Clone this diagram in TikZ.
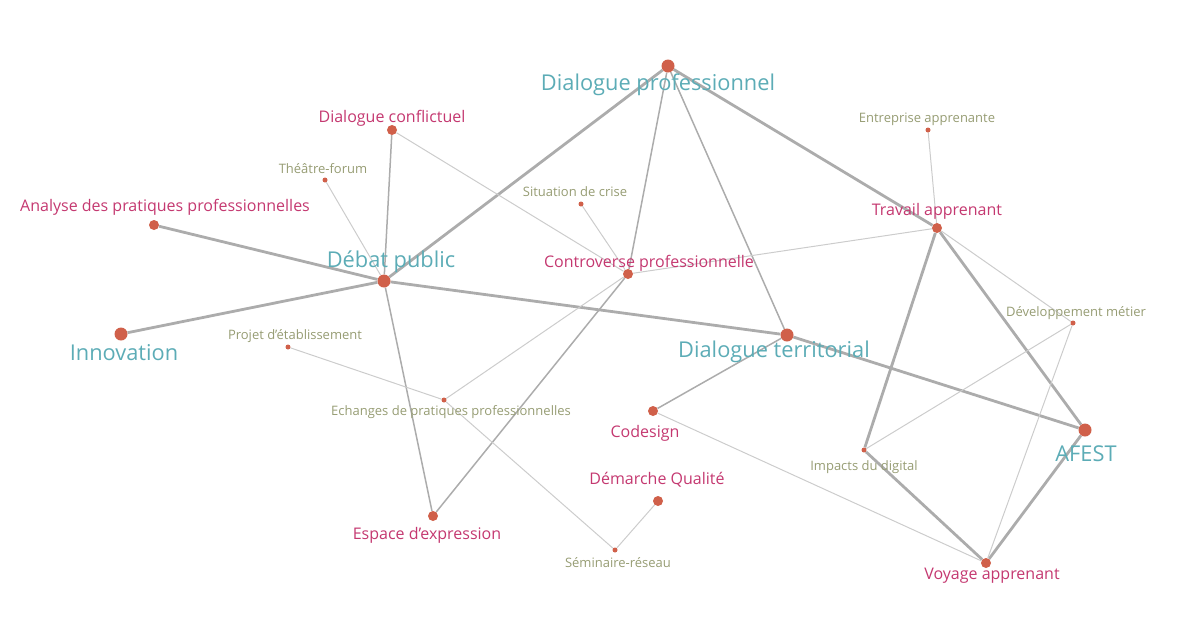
\documentclass[tikz,border=0pt]{standalone}
\usepackage{fontspec}
\setmainfont{Open Sans}
\usetikzlibrary{positioning,backgrounds}
\definecolor{DotRed}{RGB}{208,96,74}
\definecolor{TealLbl}{RGB}{92,172,182}
\definecolor{PinkLbl}{RGB}{196,56,112}
\definecolor{OliveLbl}{RGB}{150,156,115}
\definecolor{EdgeGray}{RGB}{172,172,172}
\definecolor{EdgeLight}{RGB}{204,204,204}

\tikzset{
	dotbig/.style={circle, fill=DotRed, inner sep=0pt, minimum size=13pt},
	dotmid/.style={circle, fill=DotRed, inner sep=0pt, minimum size=10pt},
	dotsmall/.style={circle, fill=DotRed, inner sep=0pt, minimum size=5pt},
	txtbig/.style={text=TealLbl, font=\fontsize{21.8}{22}\selectfont, inner sep=0pt},
	txtmid/.style={text=PinkLbl, font=\fontsize{16}{16}\selectfont, inner sep=0pt},
	txtsmall/.style={text=OliveLbl, font=\fontsize{13}{13}\selectfont, inner sep=0pt},
	linkthick/.style={EdgeGray, line width=2.8pt},
	linkmid/.style={EdgeGray, line width=1.5pt},
	linkthin/.style={EdgeLight, line width=1pt}
}

\begin{document}
\begin{tikzpicture}[x=1pt, y=-1pt]
	\useasboundingbox (0,0) rectangle (1192,633);

	% points
	\node[dotbig] (dprof) at (668,66) {};
	\node[dotmid] (dconf) at (392,130) {};
	\node[dotsmall] (theatre) at (325,180) {};
	\node[dotmid] (analyse) at (154,225) {};
	\node[dotbig] (debat) at (384,281) {};
	\node[dotbig] (innov) at (121,334) {};
	\node[dotsmall] (projet) at (288,347) {};
	\node[dotsmall] (crise) at (581,204) {};
	\node[dotmid] (controv) at (628,274) {};
	\node[dotbig] (dterr) at (787,335) {};
	\node[dotsmall] (entrep) at (928,130) {};
	\node[dotmid] (travail) at (937,228) {};
	\node[dotsmall] (devmet) at (1073,323) {};
	\node[dotsmall] (echanges) at (444,400) {};
	\node[dotmid] (codesign) at (653,411) {};
	\node[dotbig] (afest) at (1085,430) {};
	\node[dotsmall] (digital) at (864,450) {};
	\node[dotmid] (qualite) at (658,501) {};
	\node[dotmid] (espace) at (433,516) {};
	\node[dotsmall] (seminaire) at (615,550) {};
	\node[dotmid] (voyage) at (986,563) {};

	% libelles
	\node[txtbig] (dprof-t) at (658,85) {Dialogue professionnel};
	\node[txtmid] (dconf-t) at (392,118) {Dialogue conflictuel};
	\node[txtsmall] (theatre-t) at (323,169) {Théâtre-forum};
	\node[txtmid] (analyse-t) at (165,207) {Analyse des pratiques professionnelles};
	\node[txtbig] (debat-t) at (391,262) {Débat public};
	\node[txtbig] (innov-t) at (124,353) {Innovation};
	\node[txtsmall] (projet-t) at (295,336) {Projet d’établissement};
	\node[txtsmall] (crise-t) at (575,192) {Situation de crise};
	\node[txtmid] (controv-t) at (649,263) {Controverse professionnelle};
	\node[txtbig] (dterr-t) at (774,352) {Dialogue territorial};
	\node[txtsmall] (entrep-t) at (927,119) {Entreprise apprenante};
	\node[txtmid] (travail-t) at (937,211) {Travail apprenant};
	\node[txtsmall] (devmet-t) at (1076,313) {Développement métier};
	\node[txtsmall] (echanges-t) at (451,412) {Echanges de pratiques professionnelles};
	\node[txtmid] (codesign-t) at (645,433) {Codesign};
	\node[txtbig] (afest-t) at (1086,454) {AFEST};
	\node[txtsmall] (digital-t) at (864,467) {Impacts du digital};
	\node[txtmid] (qualite-t) at (657,480) {Démarche Qualité};
	\node[txtmid] (espace-t) at (427,535) {Espace d’expression};
	\node[txtsmall] (seminaire-t) at (618,563) {Séminaire-réseau};
	\node[txtmid] (voyage-t) at (992,576) {Voyage apprenant};

	\begin{scope}[on background layer]
		% liens forts
		\draw[linkthick] (dprof) -- (debat);
		\draw[linkthick] (dprof) -- (travail);
		\draw[linkthick] (analyse) -- (debat);
		\draw[linkthick] (innov) -- (debat);
		\draw[linkthick] (debat) -- (dterr);
		\draw[linkthick] (dterr) -- (afest);
		\draw[linkthick] (travail) -- (afest);
		\draw[linkthick] (travail) -- (digital);
		\draw[linkthick] (digital) -- (voyage);
		\draw[linkthick] (voyage) -- (afest);
		% liens moyens
		\draw[linkmid] (dprof) -- (controv);
		\draw[linkmid] (dprof) -- (dterr);
		\draw[linkmid] (dconf) -- (debat);
		\draw[linkmid] (debat) -- (espace);
		\draw[linkmid] (controv) -- (espace);
		\draw[linkmid] (dterr) -- (codesign);
		% liens faibles
		\draw[linkthin] (dconf) -- (controv);
		\draw[linkthin] (theatre) -- (debat);
		\draw[linkthin] (crise) -- (controv);
		\draw[linkthin] (controv) -- (travail);
		\draw[linkthin] (controv) -- (echanges);
		\draw[linkthin] (projet) -- (echanges);
		\draw[linkthin] (echanges) -- (seminaire);
		\draw[linkthin] (codesign) -- (voyage);
		\draw[linkthin] (qualite) -- (seminaire);
		\draw[linkthin] (entrep) -- (travail);
		\draw[linkthin] (travail) -- (devmet);
		\draw[linkthin] (devmet) -- (digital);
		\draw[linkthin] (devmet) -- (voyage);
	\end{scope}
\end{tikzpicture}
\end{document}
